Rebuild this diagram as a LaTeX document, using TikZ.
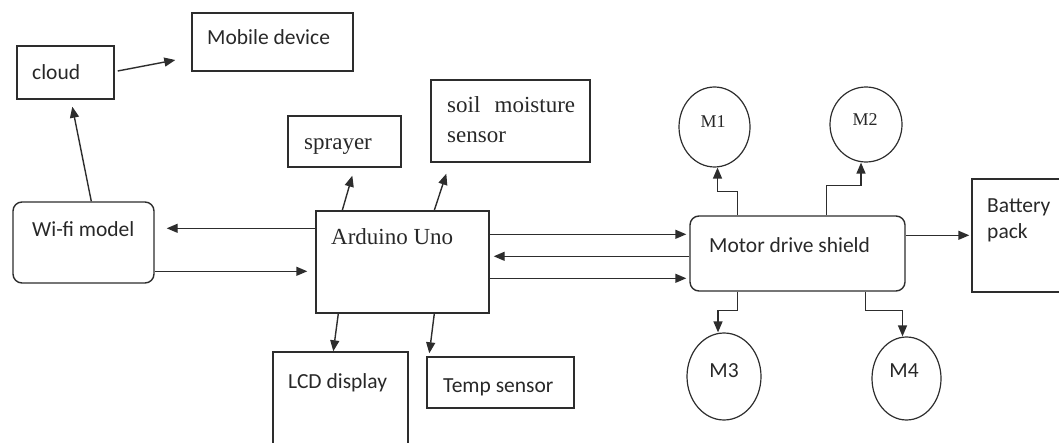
\documentclass[tikz,border=0pt]{standalone}
\usepackage{fontspec}
\setmainfont{Liberation Serif}
\newfontfamily\sansf{Carlito}
\usetikzlibrary{arrows.meta,calc,shapes.geometric}
\definecolor{ln}{RGB}{45,45,45}
\definecolor{tx}{RGB}{40,40,40}
\begin{document}
\begin{tikzpicture}[x=1pt,y=-1pt,
  box/.style={draw=ln,line width=1.4pt,rectangle,inner sep=0pt},
  rbox/.style={box,rounded corners=9pt},
  motor/.style={draw=ln,line width=1.2pt,ellipse,inner sep=0pt},
  stxt/.style={anchor=base west,inner sep=0pt,text=tx,font=\sansf\fontsize{21.5}{26}\selectfont},
  rtxt/.style={anchor=base west,inner sep=0pt,text=tx,font=\fontsize{23}{30}\selectfont},
  arr/.style={draw=ln,line width=1.4pt,-{Triangle[length=11pt,width=9pt]}},
]
\useasboundingbox (0,0) rectangle (1059,443);
\clip (0,0) rectangle (1059,443);
% boxes
\node[box,minimum width=97pt,minimum height=53pt] (cloud) at (65.5,72.5) {};
\node[box,minimum width=161pt,minimum height=58pt] (mobile) at (272.5,42) {};
\node[rbox,minimum width=141pt,minimum height=81pt] (wifi) at (83.5,242.5) {};
\node[box,minimum width=173pt,minimum height=102pt] (ard) at (402.5,262) {};
\node[box,minimum width=113pt,minimum height=51pt] (spray) at (344.5,141.5) {};
\node[box,minimum width=159pt,minimum height=82pt] (soil) at (510.5,121) {};
\node[box,minimum width=135pt,minimum height=120pt] (lcd) at (340.5,412) {};
\node[box,minimum width=147pt,minimum height=51pt] (temp) at (500.5,382.5) {};
\node[rbox,minimum width=215pt,minimum height=75pt] (mds) at (797.5,253.5) {};
\node[box,minimum width=110pt,minimum height=113pt] (bat) at (1027,235.5) {};
\node[motor,minimum width=71pt,minimum height=80pt] (m1) at (714.5,127) {};
\node[motor,minimum width=72pt,minimum height=75pt] (m2) at (866,124.5) {};
\node[motor,minimum width=74pt,minimum height=87pt] (m3) at (724,376.5) {};
\node[motor,minimum width=69pt,minimum height=83pt] (m4) at (906.5,378.5) {};
% texts
\node[stxt] (cloudt) at (32,80) {cloud};
\node[stxt] (mobilet) at (207,45) {Mobile device};
\node[stxt] (wifit) at (32,237) {Wi-fi model};
\node[rtxt] (ardt) at (331,245) {Arduino Uno};
\node[rtxt] (sprayt) at (304,150) {sprayer};
\node[rtxt,text width=128pt,align=left] (soilt) at (447,113) {soil\hfill moisture\\sensor};
\node[stxt] (lcdt) at (288,388) {LCD display};
\node[stxt] (tempt) at (443,392) {Temp sensor};
\node[stxt] (mdst) at (709,253) {Motor drive shield};
\node[stxt,text width=70pt,align=left] (batt) at (987,213) {Battery\\pack};
\node[rtxt,anchor=base,font=\fontsize{18}{20}\selectfont] (m1t) at (713,128) {M1};
\node[rtxt,anchor=base,font=\fontsize{18}{20}\selectfont] (m2t) at (865,126) {M2};
\node[stxt,anchor=base] (m3t) at (724,377) {M3};
\node[stxt,anchor=base] (m4t) at (904,377) {M4};
% connectors
\draw[arr] ($(wifi.north west)+(79,0)$) -- ($(cloud.south west)+(56,7)$);
\draw[arr] ($(cloud.east)+(3,-1.5)$) -- ($(mobile.west)+(-16,18)$);
\draw[arr] ($(ard.north west)+(27,0)$) -- ($(spray.south west)+(65,8)$);
\draw[arr] ($(ard.north west)+(119,0)$) -- ($(soil.south west)+(16,11)$);
\draw[arr] ($(ard.south west)+(23,0)$) -- ($(lcd.north west)+(61,0)$);
\draw[arr] ($(ard.south west)+(119,0)$) -- ($(temp.north west)+(3,-3)$);
\draw[arr,shorten >=12pt] ($(ard.north west)+(0,18)$) -- ($(wifi.north east)+(0,27)$);
\draw[arr,shorten >=8pt] ($(wifi.north east)+(0,70)$) -- ($(ard.north west)+(0,61)$);
\draw[arr,shorten >=3pt] ($(ard.north east)+(0,24)$) -- ($(mds.north west)+(0,19)$);
\draw[arr,shorten >=4pt] ($(mds.north west)+(0,41)$) -- ($(ard.north east)+(0,46)$);
\draw[arr,shorten >=3pt] ($(ard.north east)+(0,68)$) -- ($(mds.north west)+(0,63)$);
\draw[arr,shorten >=2pt] ($(mds.north east)+(0,20)$) -- ($(bat.north west)+(0,57)$);
\draw[arr] ($(mds.north west)+(48,0)$) -- ++(0,-24) -| ($(m1.south)+(3,0)$);
\draw[arr] ($(mds.north west)+(137,0)$) -- ++(0,-30) -| ($(m2.south)+(-5,0)$);
\draw[arr] ($(mds.south west)+(48,0)$) -- ++(0,19) -| ($(m3.north)+(-6,0)$);
\draw[arr] ($(mds.south west)+(176,0)$) -- ++(0,19) -| ($(m4.north)+(-4,0)$);
\end{tikzpicture}
\end{document}
